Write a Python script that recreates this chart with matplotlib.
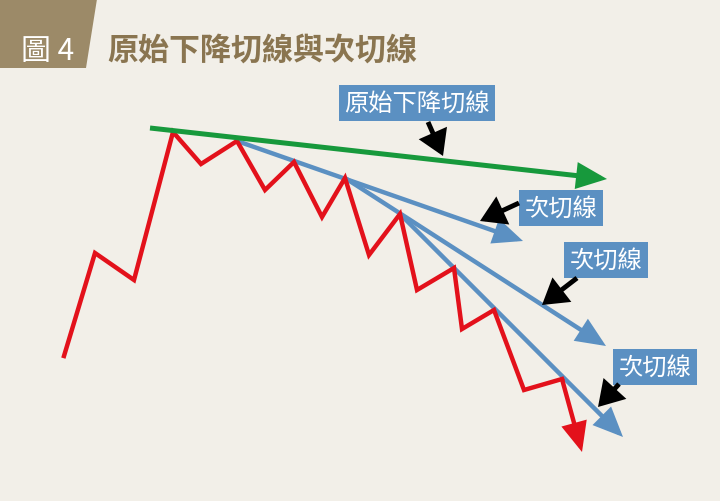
import matplotlib.pyplot as plt
from matplotlib.patches import Polygon, FancyArrowPatch

plt.rcParams['font.family'] = ['Noto Sans CJK TC', 'DejaVu Sans']

# zigzag price path (pixel-like coordinates, y grows downward)
price_x = [64, 95, 134, 173, 201, 237, 265, 294, 322, 345, 369, 400, 417, 454, 462, 494, 524, 562, 582]
price_y = [357, 254, 281, 133, 165, 142, 191, 163, 218, 179, 256, 215, 291, 269, 330, 311, 391, 380, 453]

# original falling tangent line
main_line = [(150, 129), (607, 180)]

# secondary tangent lines: start, end
sub_lines = [
    [(237, 142), (523, 242)],
    [(345, 179), (606, 347)],
    [(400, 215), (623, 438)],
]

title = "原始下降切線與次切線"
fig_label = "圖 4"
main_label = "原始下降切線"
sub_label = "次切線"

# label boxes (center) and pointer arrows (from, to)
label_pos = [(417, 104), (561, 209), (606, 261), (655, 368)]
label_text = [main_label, sub_label, sub_label, sub_label]
pointers = [
    [(428, 123), (443, 157)],
    [(519, 204), (480, 222)],
    [(577, 279), (542, 306)],
    [(619, 385), (598, 408)],
]

BG = "#f2efe8"
RED = "#e3111b"
GREEN = "#17993c"
BLUE = "#5b90c2"
BROWN = "#9c8a68"
TITLE_C = "#8a7550"

fig = plt.figure(figsize=(7.2, 5.02), dpi=100)
fig.patch.set_facecolor(BG)
ax = fig.add_axes([0, 0, 1, 1])
ax.set_xlim(0, 720)
ax.set_ylim(502, 0)
ax.axis("off")
ax.set_facecolor(BG)

# header
ax.add_patch(Polygon([(0, 0), (97, 0), (86, 69), (0, 69)], closed=True,
                     facecolor=BROWN, edgecolor="none"))
ax.text(48, 51, fig_label, color="white", fontsize=21.5, ha="center", va="center")
ax.text(107, 52, title, color=TITLE_C, fontsize=22.3, fontweight="bold",
        ha="left", va="center")


def arrow(p0, p1, color, lw, hl, hw, z):
    a = FancyArrowPatch(p0, p1, arrowstyle=f"-|>,head_length={hl},head_width={hw}",
                        color=color, lw=lw, mutation_scale=10, zorder=z,
                        shrinkA=0, shrinkB=0, joinstyle="miter", capstyle="butt")
    ax.add_patch(a)


# red price path
ax.plot(price_x[:-1], price_y[:-1], color=RED, lw=3.2, solid_joinstyle="miter", zorder=3)
arrow((price_x[-2], price_y[-2]), (price_x[-1], price_y[-1]), RED, 3.2, 1.6, 0.7, 3)

# blue secondary lines
for (p0, p1) in sub_lines:
    arrow(p0, p1, BLUE, 3.2, 1.6, 0.7, 2)

# green original line
arrow(main_line[0], main_line[1], GREEN, 3.6, 1.6, 0.7, 4)

# labels
for (cx, cy), t in zip(label_pos, label_text):
    ax.text(cx, cy, t, color="white", fontsize=17.5, ha="center", va="center", zorder=5,
            bbox=dict(boxstyle="square,pad=0.22", facecolor=BLUE, edgecolor="none"))

for p0, p1 in pointers:
    arrow(p0, p1, "black", 3.5, 1.3, 0.8, 6)

fig.savefig("out.png", dpi=100, facecolor=BG)
